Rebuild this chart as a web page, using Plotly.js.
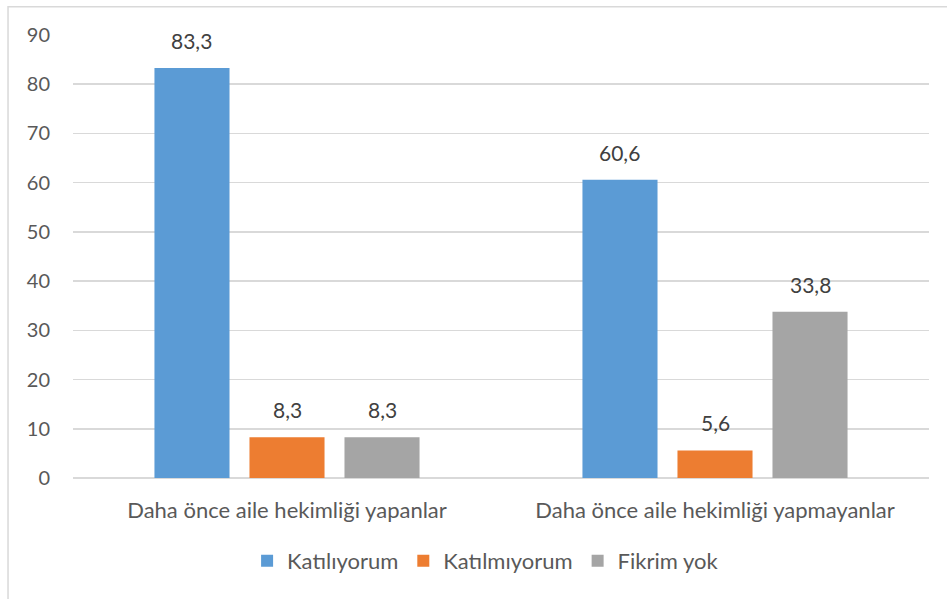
<!DOCTYPE html>
<html><head><meta charset="utf-8">
<script src="https://cdn.plot.ly/plotly-3.0.1.min.js"></script>
<style>body{margin:0;background:#fff}#c{width:947px;height:599px}</style>
</head><body><div id="c"></div>
<script>
const categories = ["Daha önce aile hekimliği yapanlar", "Daha önce aile hekimliği yapmayanlar"];
const seriesNames = ["Katılıyorum", "Katılmıyorum", "Fikrim yok"];
const katiliyorum = [83.3, 60.6];
const katilmiyorum = [8.3, 5.6];
const fikrimYok = [8.3, 33.8];
const tickVals = [0, 10, 20, 30, 40, 50, 60, 70, 80, 90];
const colors = ["#5b9bd5", "#ed7d31", "#a5a5a5"];
const fontFam = "Lato, 'Open Sans', sans-serif";
const txtColor = "#595959";
const fmt = v => v.toFixed(1).replace('.', ',');
const W = 947, H = 599, M = {l: 73, r: 18, t: 35, b: 121};
const bargap = 0.334, bargroupgap = 0.21;
const series = [katiliyorum, katilmiyorum, fikrimYok];
const data = series.map((vals, i) => ({
  type: 'bar', name: seriesNames[i], x: categories, y: vals,
  marker: {color: colors[i]}, hoverinfo: 'none'
}));
// data labels placed at each bar's value, offset to the bar's slot within its group
const plotW = W - M.l - M.r;
const slotW = plotW / categories.length * (1 - bargap) / series.length;
const annotations = [];
series.forEach((vals, i) => vals.forEach((v, j) => annotations.push({
  x: categories[j], y: v, xref: 'x', yref: 'y', text: fmt(v), showarrow: false,
  xshift: (i - (series.length - 1) / 2) * slotW, yanchor: 'bottom', yshift: 13,
  font: {family: fontFam, size: 21, color: "#404040"}
})));
const layout = {
  width: W, height: H, margin: M,
  paper_bgcolor: '#fff', plot_bgcolor: '#fff',
  barmode: 'group', bargap: bargap, bargroupgap: bargroupgap,
  showlegend: true,
  legend: {orientation: 'h', x: 0.482, xanchor: 'center', y: -0.187, yanchor: 'middle',
    font: {family: fontFam, size: 22, color: txtColor}, traceorder: 'normal', itemwidth: 30},
  xaxis: {type: 'category', showgrid: false, showline: false, ticks: '', ticklen: 0,
    ticklabelstandoff: 17,
    tickfont: {family: fontFam, size: 22, color: txtColor}, automargin: false},
  yaxis: {range: [0, 90], tickvals: tickVals, showgrid: true, gridcolor: '#d9d9d9', gridwidth: 1.5,
    zeroline: true, zerolinecolor: '#d9d9d9', zerolinewidth: 1.5, showline: false,
    ticks: '', ticklabelstandoff: 22,
    tickfont: {family: fontFam, size: 20, color: txtColor}, automargin: false},
  annotations: annotations,
  shapes: [{type: 'rect', xref: 'paper', yref: 'paper', x0: -0.0759, x1: 1.2, y0: -0.5, y1: 1.064,
    line: {color: '#d9d9d9', width: 1.5}, fillcolor: 'rgba(0,0,0,0)', layer: 'below'}],
  font: {family: fontFam}
};
Plotly.newPlot('c', data, layout, {displayModeBar: false, staticPlot: true});
</script></body></html>
